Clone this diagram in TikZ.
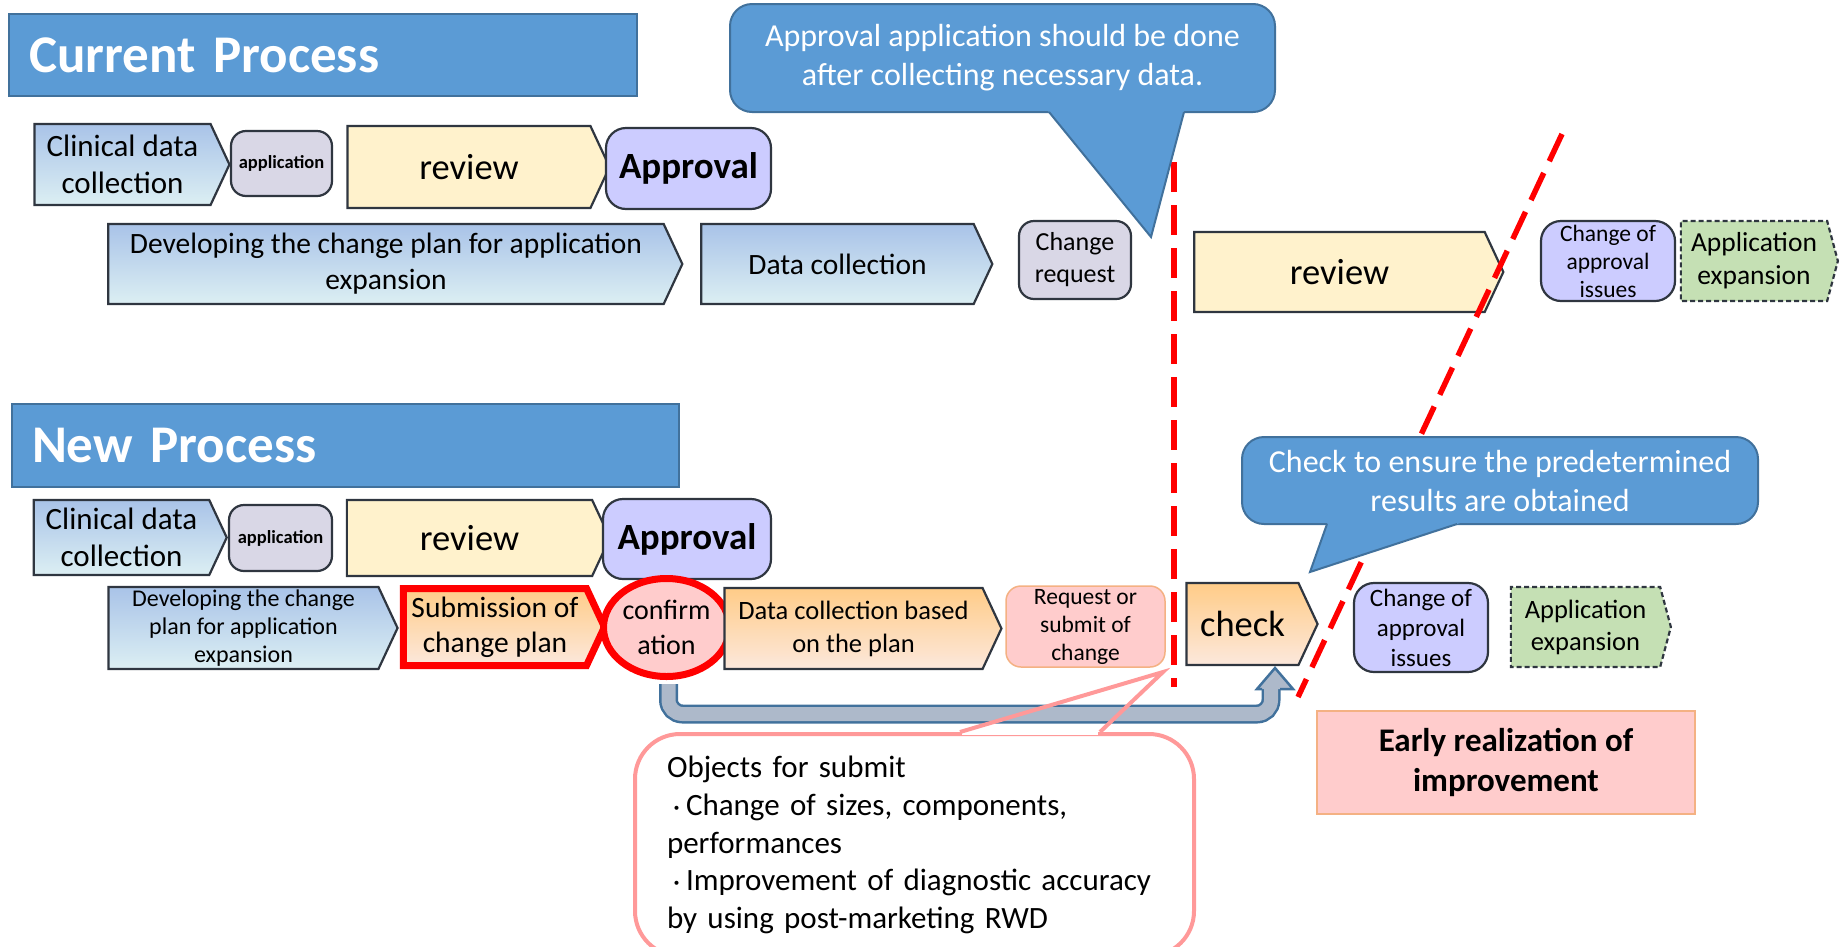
\documentclass[tikz,border=0pt]{standalone}
\usepackage{fontspec}
\setmainfont{Carlito}
\newfontfamily\cjk{Noto Sans CJK JP}
\usetikzlibrary{shapes.symbols,shapes.geometric,calc}

\definecolor{edgecol}{HTML}{2F3640}
\definecolor{bluetop}{HTML}{A9C3E8}
\definecolor{bluebot}{HTML}{DCEFF3}
\definecolor{yellowfill}{HTML}{FFF2CC}
\definecolor{purplefill}{HTML}{CCCCFF}
\definecolor{grayfill}{HTML}{D9D7E6}
\definecolor{greenfill}{HTML}{C5E0B4}
\definecolor{orangetop}{HTML}{FFCC88}
\definecolor{orangebot}{HTML}{FCE8DC}
\definecolor{pinkfill}{HTML}{FFCCCC}
\definecolor{pinkedge}{HTML}{F4B183}
\definecolor{noteedge}{HTML}{FF9999}
\definecolor{bannerfill}{HTML}{5B9BD5}
\definecolor{banneredge}{HTML}{41719C}
\definecolor{arrowfill}{HTML}{ADB9CA}

\newcommand{\txtsize}[2]{\fontsize{#1pt}{#2pt}\selectfont}
\newcommand{\dotmark}{{\cjk\fontsize{19pt}{19pt}\selectfont ・}}

\begin{document}
\begin{tikzpicture}[x=1pt,y=-1pt]
\tikzstyle{chev}=[signal, signal to=east, signal pointer angle=130, draw=edgecol, line width=2.2pt, inner sep=0pt, align=center]
\tikzstyle{chevblue}=[chev, top color=bluetop, bottom color=bluebot]
\tikzstyle{chevyellow}=[chev, fill=yellowfill]
\tikzstyle{chevorange}=[chev, top color=orangetop, bottom color=orangebot]
\tikzstyle{chevgreen}=[chev, fill=greenfill, dash pattern=on 5pt off 3pt, signal pointer angle=150]
\tikzstyle{roundbox}=[rectangle, rounded corners=15pt, draw=edgecol, line width=2.2pt, inner sep=0pt, align=center]
\tikzstyle{graybox}=[roundbox, fill=grayfill]
\tikzstyle{purplebox}=[roundbox, fill=purplefill, rounded corners=20pt]
\tikzstyle{banner}=[rectangle, fill=bannerfill, draw=banneredge, line width=1.5pt, text=white, align=left, inner xsep=20pt, inner ysep=0pt, font=\bfseries\txtsize{53}{60}]
\tikzstyle{bubble}=[rectangle, rounded corners=22pt, fill=bannerfill, draw=banneredge, line width=2pt, text=white, align=center, font=\txtsize{32}{39}]
\tikzstyle{notebox}=[rectangle, rounded corners=45pt, draw=noteedge, line width=4pt, fill=white, align=left, inner xsep=32pt, inner ysep=22pt, font=\txtsize{31}{37.8}]
\tikzstyle{reddash}=[red, line width=5.5pt, dash pattern=on 30pt off 13pt]
\tikzstyle{pipe}=[draw=banneredge, double=arrowfill, double distance=14pt, line width=2.5pt, rounded corners=14pt]

\useasboundingbox (0,0) rectangle (1841,946);

% current process
\draw (323,55) node[banner, text width=588pt, minimum height=82pt] (cur) {Current Process};
\draw (122.5,164.5) node[chevblue, minimum width=195pt, minimum height=81pt, font=\txtsize{31}{37.5}] (clin1) {Clinical data\\collection};
\draw (281.5,163.5) node[graybox, minimum width=101pt, minimum height=65pt, font=\bfseries\txtsize{18.5}{22}] (app1) {application};
\draw (469,167) node[chevyellow, minimum width=262pt, minimum height=82pt, font=\txtsize{36.5}{44}] (rev1) {review};
\draw (688.5,168.5) node[purplebox, minimum width=165pt, minimum height=81pt, font=\bfseries\txtsize{37}{44}] (appr1) {Approval};

\draw (386,264) node[chevblue, minimum width=574pt, minimum height=80pt, font=\txtsize{29.5}{36}] (dev1) {Developing the change plan for application\\expansion};
\draw (837.5,264) node[chevblue, minimum width=291pt, minimum height=80pt, font=\txtsize{29.5}{36}] (dc1) {Data collection};
\draw (1075,260) node[graybox, minimum width=112pt, minimum height=78pt, font=\txtsize{26}{32}] (chg1) {Change\\request};
\draw (1339.5,272) node[chevyellow, minimum width=309pt, minimum height=80pt, font=\txtsize{36.5}{44}] (rev2) {review};
\draw (1608,261) node[purplebox, minimum width=134pt, minimum height=80pt, font=\txtsize{23.5}{28}] (iss1) {Change of\\approval\\issues};
\draw (1754,261) node[chevgreen, minimum width=157pt, minimum height=80pt, font=\txtsize{27.5}{33}] (exp1) {Application\\expansion};

% new process
\draw (345.5,445.5) node[banner, text width=627pt, minimum height=83pt] (new) {New Process};
\draw (121.5,537.5) node[chevblue, minimum width=193pt, minimum height=75pt, font=\txtsize{31}{37.5}] (clin2) {Clinical data\\collection};
\draw (280.5,538) node[graybox, minimum width=103pt, minimum height=66pt, font=\bfseries\txtsize{18.5}{22}] (app2) {application};
\draw (469.5,538) node[chevyellow, minimum width=263pt, minimum height=76pt, font=\txtsize{36.5}{44}] (rev3) {review};
\draw (687,539) node[purplebox, minimum width=168pt, minimum height=80pt, font=\bfseries\txtsize{37}{44}] (appr2) {Approval};

\draw (243.5,628) node[chevblue, minimum width=289pt, minimum height=82pt, font=\txtsize{24}{28}] (dev2) {Developing the change\\plan for application\\expansion};
\draw (495,627) node[chevorange, draw=red, line width=7pt, minimum width=201pt, minimum height=77pt, font=\txtsize{29.5}{35}] (sub) {Submission of\\change plan};
\draw (666.5,627.5) node[ellipse, fill=pinkfill, draw=red, line width=7pt, minimum width=126pt, minimum height=98pt, inner sep=0pt, align=center, font=\txtsize{28}{35}] (conf) {confirm\\ation};
\draw (853.5,628.5) node[chevorange, minimum width=277pt, minimum height=81pt, font=\txtsize{26.5}{33}] (dc2) {Data collection based\\on the plan};
\draw (1085.5,626.5) node[roundbox, fill=pinkfill, draw=pinkedge, line width=1.5pt, minimum width=159pt, minimum height=81pt, font=\txtsize{23.5}{28}] (req) {Request or\\submit of\\change};
\draw (1242.5,624) node[chevorange, minimum width=131pt, minimum height=82pt, font=\txtsize{36.5}{44}] (check) {check};
\draw (1421,627.5) node[purplebox, minimum width=134pt, minimum height=89pt, font=\txtsize{25}{30}] (iss2) {Change of\\approval\\issues};
\draw (1585.5,627) node[chevgreen, minimum width=160pt, minimum height=80pt, font=\txtsize{26.5}{32}] (exp2) {Application\\expansion};

% feedback arrow
\coordinate (arrtip) at (1275,668);
\draw[pipe] ($(conf.south)+(2,4)$) -- ++(0,30) -| ($(arrtip)+(-4,19)$);
\fill[arrowfill] ($(arrtip)+(-18,21)$) -- (arrtip) -- ($(arrtip)+(18,21)$) -- cycle;
\draw[banneredge, line width=2.5pt] ($(arrtip)+(-13,21)$) -- ($(arrtip)+(-18,21)$) -- (arrtip) -- ($(arrtip)+(18,21)$) -- ($(arrtip)+(5,21)$);

% cut lines
\coordinate (cuta) at (1174,162);
\coordinate (cutb) at (1174,687);
\coordinate (cutc) at (1562,134);
\coordinate (cutd) at (1298,697);
\draw[reddash] (cuta) -- (cutb);
\draw[reddash] (cutc) -- (cutd);

% callouts
\draw (1002.5,58) node[bubble, minimum width=545pt, minimum height=108pt] (note1) {Approval application should be done\\after collecting necessary data.};
\coordinate (tip1) at (1151,237);
\fill[bannerfill] (1042.5,104) -- (tip1) -- (1186,104) -- cycle;
\draw[banneredge, line width=2pt] (1049,112) -- (tip1) -- (1184,112);

\draw (1500,480.5) node[bubble, minimum width=516pt, minimum height=87pt] (note2) {Check to ensure the predetermined\\results are obtained};
\coordinate (tip2) at (1310,572);
\fill[bannerfill] (1330,516) -- (tip2) -- (1481.5,516) -- cycle;
\draw[banneredge, line width=2pt] (1327,524) -- (tip2) -- (1457,524);

\draw (914.5,732) node[notebox, anchor=north, text width=495pt] (note3) {Objects for submit\\\dotmark Change of sizes, components,\\performances\\\dotmark Improvement of diagnostic accuracy\\by using post-marketing RWD};
\coordinate (tip3) at (1163,672);
\draw[white, line width=5pt] (962,732) -- (1098,732);
\draw[noteedge, line width=4pt] (960,732) -- (tip3) -- (1100,732);

\draw (1506,762.5) node[rectangle, fill=pinkfill, draw=pinkedge, line width=2pt, minimum width=378pt, minimum height=103pt, align=center, font=\bfseries\txtsize{33}{40}] (early) {Early realization of\\improvement};
\end{tikzpicture}
\end{document}
